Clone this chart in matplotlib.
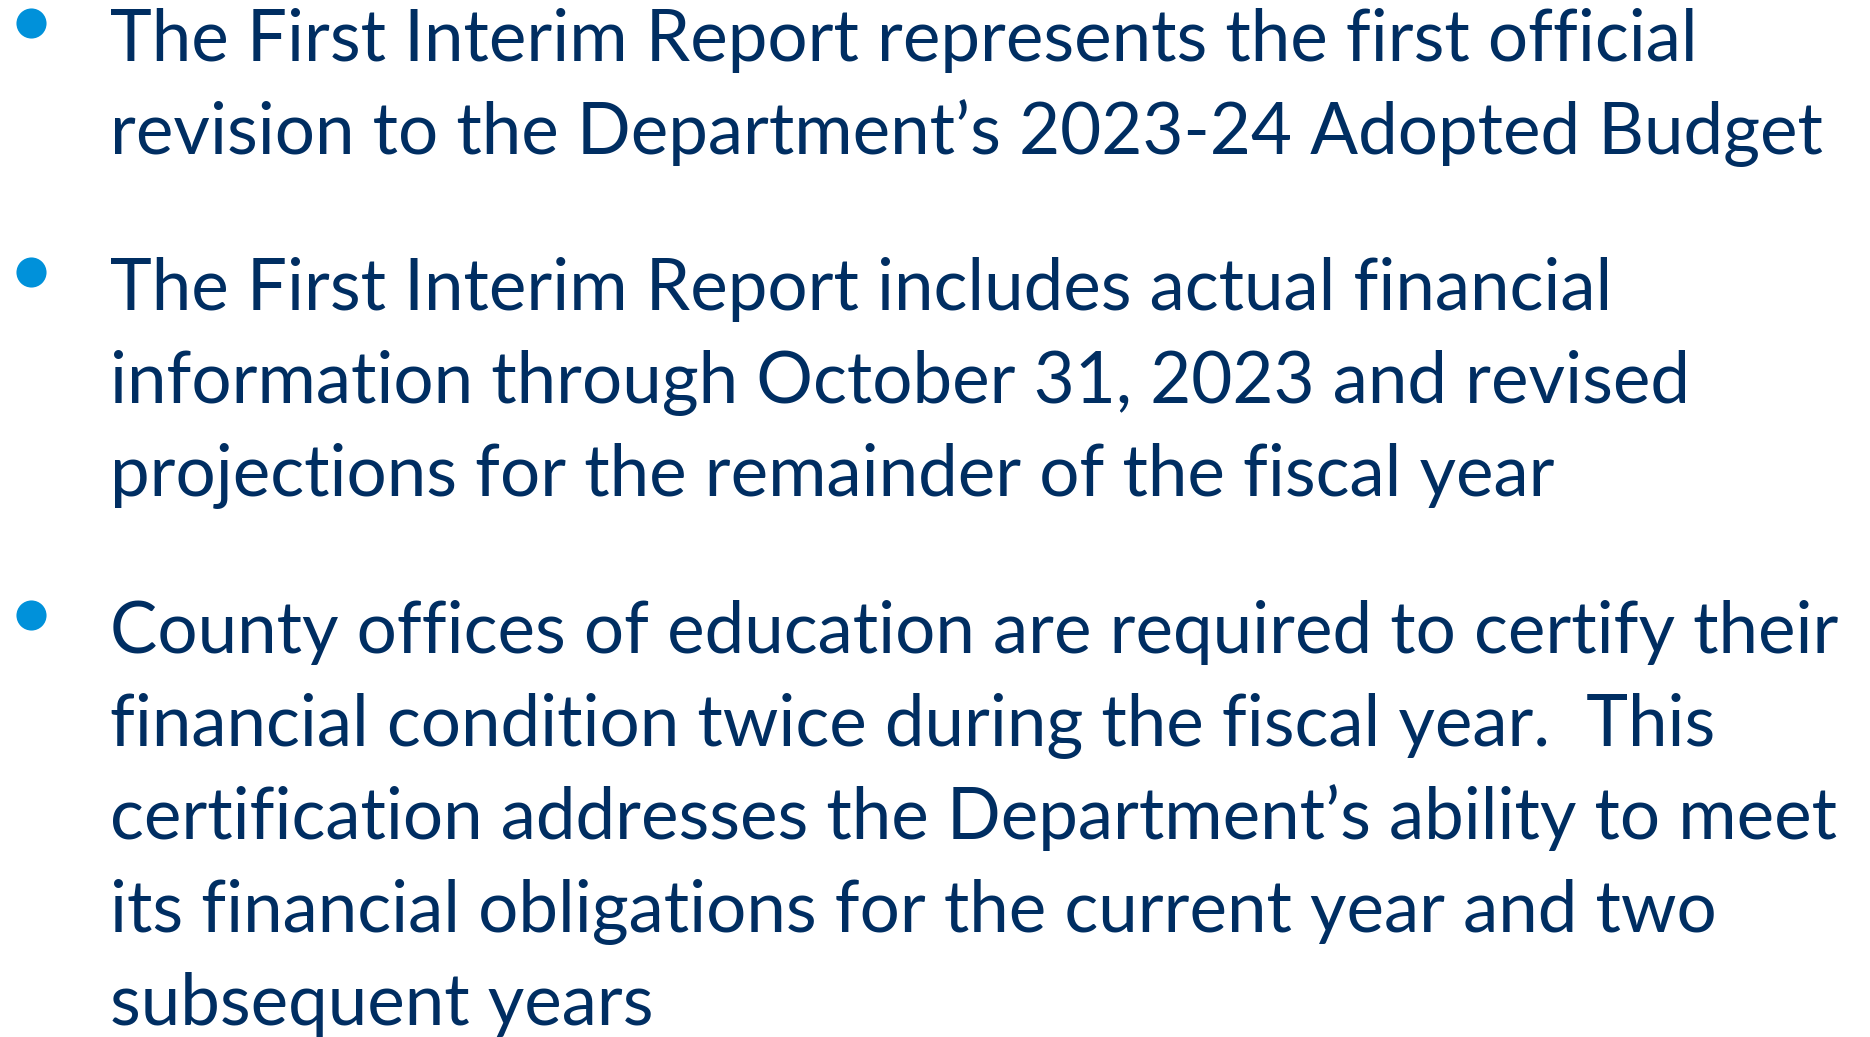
import matplotlib.pyplot as plt

# texto do slide, uma lista de linhas por item
item_1 = ["The First Interim Report represents the first official",
          "revision to the Department\u2019s 2023-24 Adopted Budget"]
item_2 = ["The First Interim Report includes actual financial",
          "information through October 31, 2023 and revised",
          "projections for the remainder of the fiscal year"]
item_3 = ["County offices of education are required to certify their",
          "financial condition twice during the fiscal year.  This",
          "certification addresses the Department\u2019s ability to meet",
          "its financial obligations for the current year and two",
          "subsequent years"]
itens = [item_1, item_2, item_3]
primeira_linha = [61, 310, 653]   # baseline da primeira linha de cada item (px)

cor_texto = '#002E62'
cor_bullet = '#0091DA'
entrelinha = 93
x_texto = 110
x_bullet = 31

fig = plt.figure(figsize=(18.7, 10.37), dpi=100)
ax = fig.add_axes([0, 0, 1, 1])
ax.set_xlim(0, 1870)
ax.set_ylim(1037, 0)
ax.axis('off')

for item, y0 in zip(itens, primeira_linha):
    ax.scatter([x_bullet], [y0 - 38], s=470, color=cor_bullet, linewidths=0)
    for i, linha in enumerate(item):
        ax.text(x_texto, y0 + i * entrelinha, linha, fontsize=51,
                family='Lato', color=cor_texto, va='baseline', ha='left')

plt.savefig('out.png', dpi=100)
